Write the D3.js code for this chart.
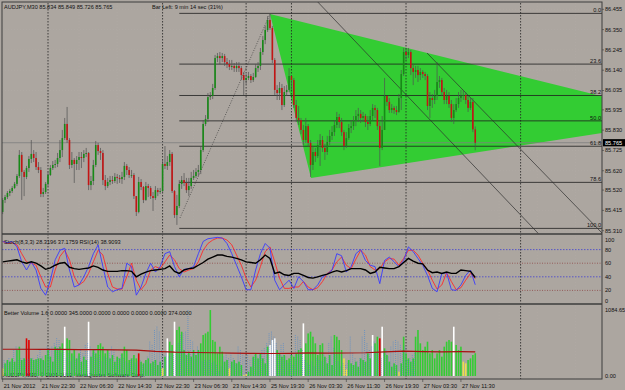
<!DOCTYPE html>
<html>
<head>
<meta charset="utf-8">
<title>AUDJPY,M30</title>
<script src="https://d3js.org/d3.v7.min.js"></script>
<style>
  body { margin: 0; background: #aca6a0; }
  svg { display: block; font-family: "Liberation Sans", Arial, sans-serif; }
  .lbl { font-size: 5.6px; fill: #111; }
</style>
</head>
<body>
<svg id="chart"></svg>
<script>
// ---- texts ----
var symbolTitle = "AUDJPY,M30  85.834 85.849 85.726 85.765";
var barLeftText = "Bar Left: 9 min 14 sec (31%)";
var oscTitle = "Stoch(8,3,3) 28.3196 37.1759 RSI(14) 38.9093";
var volTitle = "Better Volume 1.6 0.0000 345.0000 0.0000 0.0000 0.0000 0.0000 374.0000";
var copyrightText = "AUDJPY,M30, \u00a9 2001-2012, MetaQuotes Software Corp.";

// ---- axes ----
var timeLabels = ["21 Nov 2012", "21 Nov 22:30", "22 Nov 06:30", "22 Nov 14:30", "22 Nov 22:30",
  "23 Nov 06:30", "23 Nov 14:30", "25 Nov 19:30", "26 Nov 03:30", "26 Nov 11:30",
  "26 Nov 19:30", "27 Nov 03:30", "27 Nov 11:30"];
var barsPerLabel = 16;
var priceTicks = [86.455, 86.350, 86.245, 86.140, 86.035, 85.935, 85.830, 85.725, 85.620, 85.520, 85.415, 85.310];
var oscTicks = [100, 80, 60, 40, 20, 0];
var volTicks = [1084.65, 0];
var daySeparators = [19, 67, 102, 121, 169, 217];

// ---- candles (M30 bars, open = previous close) ----
var firstOpen = 85.407;
var closes = [
  85.469, 85.484, 85.505, 85.515, 85.531, 85.552, 85.593, 85.702, 85.614, 85.588,
  85.634, 85.681, 85.707, 85.686, 85.639, 85.624, 85.500, 85.510, 85.552, 85.598,
  85.634, 85.650, 85.655, 85.686, 85.727, 85.789, 85.862, 85.779, 85.650, 85.676,
  85.655, 85.676, 85.691, 85.686, 85.707, 85.712, 85.546, 85.567, 85.650, 85.753,
  85.722, 85.712, 85.572, 85.541, 85.562, 85.572, 85.567, 85.588, 85.583, 85.577,
  85.588, 85.645, 85.624, 85.598, 85.598, 85.489, 85.407, 85.562, 85.536, 85.469,
  85.541, 85.531, 85.489, 85.479, 85.520, 85.510, 85.515, 85.655, 85.645, 85.665,
  85.707, 85.515, 85.391, 85.438, 85.552, 85.572, 85.557, 85.520, 85.541, 85.583,
  85.593, 85.614, 85.624, 85.727, 85.862, 85.888, 86.001, 86.007, 86.048, 86.203,
  86.213, 86.203, 86.213, 86.182, 86.172, 86.157, 86.162, 86.151, 86.162, 86.151,
  86.115, 86.089, 86.100, 86.110, 86.089, 86.105, 86.151, 86.162, 86.234, 86.296,
  86.348, 86.400, 86.358, 86.193, 86.038, 86.022, 86.048, 85.960, 86.027, 86.038,
  86.110, 86.089, 85.960, 85.893, 85.882, 85.831, 85.779, 85.851, 85.764, 85.650,
  85.717, 85.696, 85.753, 85.779, 85.738, 85.717, 85.769, 85.800, 85.820, 85.857,
  85.898, 85.872, 85.820, 85.748, 85.789, 85.841, 85.851, 85.877, 85.903, 85.914,
  85.893, 85.903, 85.872, 85.862, 85.903, 85.945, 85.934, 85.851, 85.738, 85.831,
  86.007, 85.976, 85.934, 85.945, 85.934, 85.924, 85.996, 86.120, 86.234, 86.219,
  86.234, 86.151, 86.131, 86.141, 86.115, 86.131, 86.120, 86.110, 85.955, 85.996,
  85.986, 86.007, 86.079, 86.089, 86.027, 85.986, 86.007, 85.965, 85.893, 85.934,
  85.965, 85.996, 86.007, 86.012, 85.986, 85.945, 85.976, 85.834, 85.765];
var highs = [
  85.479, 85.495, 85.515, 85.526, 85.541, 85.562, 85.603, 85.727, 85.717, 85.624,
  85.645, 85.696, 85.779, 85.727, 85.717, 85.665, 85.639, 85.531, 85.562, 85.614,
  85.650, 85.670, 85.676, 85.712, 85.779, 85.831, 85.893, 85.950, 85.789, 85.717,
  85.686, 85.696, 85.717, 85.717, 85.727, 85.738, 85.717, 85.593, 85.676, 85.774,
  85.764, 85.738, 85.727, 85.598, 85.583, 85.593, 85.593, 85.608, 85.603, 85.598,
  85.614, 85.665, 85.655, 85.639, 85.624, 85.608, 85.489, 85.588, 85.577, 85.541,
  85.562, 85.552, 85.541, 85.510, 85.541, 85.531, 85.531, 85.676, 85.748, 85.696,
  85.727, 85.717, 85.520, 85.495, 85.572, 85.593, 85.608, 85.583, 85.583, 85.614,
  85.624, 85.634, 85.650, 85.748, 85.882, 85.908, 86.022, 86.027, 86.069, 86.219,
  86.229, 86.234, 86.229, 86.224, 86.203, 86.193, 86.193, 86.177, 86.182, 86.182,
  86.162, 86.131, 86.120, 86.131, 86.120, 86.126, 86.172, 86.182, 86.255, 86.317,
  86.369, 86.420, 86.434, 86.369, 86.203, 86.063, 86.079, 86.069, 86.058, 86.063,
  86.151, 86.115, 86.100, 85.986, 85.955, 85.893, 85.857, 85.893, 85.862, 85.779,
  85.748, 85.738, 85.779, 85.810, 85.800, 85.758, 85.800, 85.831, 85.851, 85.882,
  85.924, 85.914, 85.893, 85.831, 85.820, 85.862, 85.882, 85.903, 85.934, 85.945,
  85.934, 85.924, 85.914, 85.903, 85.934, 85.965, 85.960, 85.945, 85.872, 85.903,
  86.100, 86.007, 85.996, 85.965, 85.955, 85.955, 86.017, 86.141, 86.255, 86.255,
  86.255, 86.244, 86.172, 86.162, 86.162, 86.151, 86.141, 86.131, 86.120, 86.027,
  86.017, 86.038, 86.182, 86.110, 86.100, 86.048, 86.038, 86.027, 85.986, 85.965,
  85.996, 86.027, 86.038, 86.038, 86.027, 86.007, 85.996, 85.996, 85.849];
var lows = [
  85.396, 85.453, 85.474, 85.489, 85.505, 85.526, 85.541, 85.583, 85.469, 85.489,
  85.577, 85.614, 85.660, 85.665, 85.624, 85.608, 85.484, 85.484, 85.500, 85.541,
  85.593, 85.624, 85.634, 85.639, 85.665, 85.691, 85.779, 85.764, 85.629, 85.634,
  85.557, 85.624, 85.624, 85.634, 85.665, 85.691, 85.520, 85.520, 85.546, 85.639,
  85.702, 85.676, 85.546, 85.520, 85.531, 85.546, 85.552, 85.557, 85.552, 85.557,
  85.552, 85.572, 85.598, 85.583, 85.583, 85.474, 85.386, 85.400, 85.520, 85.453,
  85.464, 85.484, 85.474, 85.412, 85.469, 85.489, 85.500, 85.505, 85.629, 85.624,
  85.645, 85.505, 85.376, 85.340, 85.427, 85.526, 85.541, 85.505, 85.489, 85.526,
  85.572, 85.583, 85.593, 85.603, 85.717, 85.851, 85.872, 85.986, 85.991, 86.038,
  86.182, 86.172, 86.182, 86.162, 86.151, 86.141, 86.141, 86.131, 86.131, 86.131,
  86.089, 86.012, 86.069, 86.089, 86.074, 86.079, 86.100, 86.131, 86.141, 86.219,
  86.275, 86.338, 86.348, 86.177, 86.012, 85.986, 85.986, 85.934, 85.950, 86.007,
  86.027, 86.038, 85.945, 85.872, 85.857, 85.810, 85.753, 85.764, 85.743, 85.588,
  85.624, 85.665, 85.686, 85.645, 85.717, 85.676, 85.702, 85.753, 85.779, 85.800,
  85.841, 85.841, 85.800, 85.727, 85.738, 85.779, 85.815, 85.831, 85.851, 85.872,
  85.867, 85.872, 85.846, 85.831, 85.851, 85.882, 85.893, 85.831, 85.645, 85.727,
  85.831, 85.955, 85.919, 85.919, 85.914, 85.908, 85.919, 85.934, 86.110, 86.193,
  86.203, 86.115, 86.063, 86.100, 86.079, 86.089, 86.100, 86.089, 85.934, 85.893,
  85.945, 85.965, 85.986, 86.048, 86.007, 85.965, 85.965, 85.945, 85.872, 85.862,
  85.924, 85.945, 85.976, 85.986, 85.965, 85.924, 85.934, 85.820, 85.726];

// ---- Better Volume ----
var volumes = [
  126, 208, 263, 236, 290, 236, 427, 482, 263, 290,
  619, 591, 290, 263, 275, 290, 290, 263, 345, 427,
  318, 236, 482, 455, 482, 537, 810, 619, 591, 372,
  427, 290, 372, 236, 318, 263, 892, 318, 427, 372,
  510, 537, 482, 372, 427, 290, 345, 236, 318, 290,
  372, 482, 427, 263, 290, 345, 290, 372, 236, 208,
  263, 290, 208, 236, 263, 181, 236, 126, 318, 619,
  564, 510, 892, 756, 810, 728, 427, 345, 400, 318,
  427, 345, 427, 537, 674, 700, 728, 1084, 591, 564,
  372, 482, 400, 236, 263, 126, 236, 263, 208, 236,
  181, 16, 30, 71, 153, 318, 372, 290, 372, 290,
  208, 482, 510, 591, 619, 427, 372, 318, 345, 263,
  290, 345, 318, 372, 427, 455, 865, 537, 700, 728,
  646, 537, 345, 510, 537, 318, 208, 345, 181, 674,
  646, 591, 427, 290, 110, 263, 208, 181, 236, 153,
  290, 263, 236, 372, 290, 674, 537, 646, 619, 810,
  455, 345, 236, 153, 208, 181, 71, 208, 646, 372,
  290, 236, 290, 646, 756, 537, 427, 482, 564, 372,
  427, 290, 372, 427, 318, 482, 564, 591, 564, 810,
  510, 427, 482, 236, 208, 263, 290, 345, 374];
var climaxBars = [26, 36, 69, 72, 112, 113, 114, 126, 155, 159, 189];
var churnBars = [10, 11, 57, 158];
var lowVolBars = [0, 67, 95, 101, 102, 143, 144, 166, 193, 194];
var volMaBars = [0, 8, 16, 24, 32, 40, 48, 56, 64, 72, 80, 88, 96, 104, 112, 120, 128, 136, 144, 152, 160, 168, 176, 184, 192, 198];
var volMa = [440, 440, 438, 436, 434, 432, 430, 426, 405, 392, 386, 382, 376, 372, 370, 372, 380, 376, 378, 382, 398, 408, 400, 398, 400, 398];

// ---- Stochastic / RSI, one value every 2 bars ----
var oscStep = 2;
var stochK = [
  92, 90, 92, 84, 62, 50, 62, 50, 23, 13,
  35, 65, 79, 82, 50, 25, 28, 40, 55, 74,
  87, 55, 25, 18, 21, 23, 60, 55, 13, 25,
  45, 60, 47, 55, 74, 77, 55, 40, 51, 52,
  55, 74, 92, 96, 97, 98, 97, 89, 74, 57,
  40, 21, 21, 50, 74, 89, 82, 35, 21, 28,
  35, 23, 40, 33, 21, 21, 28, 40, 44, 50,
  74, 71, 47, 55, 74, 80, 64, 57, 55, 30,
  64, 69, 62, 55, 64, 84, 77, 67, 57, 42,
  23, 18, 45, 46, 21, 20, 28, 42, 50, 28.3];
var stochD = [
  92, 89, 90, 87, 74, 62, 60, 57, 40, 25,
  25, 50, 70, 79, 65, 40, 28, 33, 45, 62,
  79, 72, 45, 25, 22, 22, 40, 60, 35, 21,
  30, 50, 55, 52, 62, 72, 65, 52, 47, 50,
  52, 62, 79, 89, 94, 97, 97, 94, 87, 72,
  57, 38, 25, 35, 55, 77, 84, 62, 38, 23,
  23, 25, 25, 33, 25, 21, 24, 33, 45, 50,
  62, 69, 57, 52, 66, 79, 72, 55, 50, 52,
  62, 67, 66, 57, 67, 79, 79, 72, 60, 50,
  35, 22, 28, 46, 33, 21, 24, 35, 45, 37.2];
var rsi = [
  62, 63, 64, 65, 62, 60, 62, 60, 56, 51,
  53, 57, 60, 61, 54, 52, 51, 52, 53, 56,
  54, 50, 48, 48, 48, 49, 49, 48, 40, 44,
  47, 49, 50, 51, 52, 56, 48, 45, 50, 52,
  53, 57, 61, 66, 69, 72, 72, 70, 69, 67,
  65, 62, 61, 60, 65, 72, 67, 45, 47, 43,
  42, 45, 45, 42, 39, 38, 40, 42, 44, 47,
  49, 47, 49, 52, 52, 52, 50, 45, 47, 54,
  53, 52, 52, 55, 61, 67, 63, 60, 59, 50,
  46, 47, 45, 47, 45, 45, 50, 49, 48, 38.9];
var levelsBlue = [80, 40];
var levelsBrown = [60, 20];

// ---- objects on the price chart (bar index, price) ----
var fibLevels = [0, 23.6, 38.2, 50, 61.8, 78.6, 100];
var fibHigh = 86.434, fibLow = 85.322, fibStartBar = 74;
var fibTrend = [[74.3, 85.376], [112, 86.431]];
var triangle = [[112, 86.431], [129.2, 85.583], [289.2, 85.888]];
var channel = [[[132, 86.493], [225, 85.288]], [[177.8, 86.229], [251.1, 85.298]]];
var bidPrice = 85.765;

// ---- layout ----
var W = 625, H = 390;
var pl = 2, pr = 602;
var mainTop = 2, mainBottom = 233.5;
var oscTop = 234.5, oscBottom = 303.5;
var volTop = 304.5, volBottom = 379;

var svg = d3.select("#chart").attr("width", W).attr("height", H);
svg.append("rect").attr("width", W).attr("height", H).attr("fill", "#aca6a0");

var x = d3.scaleLinear().domain([0, 217]).range([2.65, 520.6]);
var y = d3.scaleLinear().domain([85.310, 86.455]).range([230.7, 9.3]);
var yOsc = d3.scaleLinear().domain([0, 100]).range([304, 236]);
var yVol = d3.scaleLinear().domain([0, 1084.65]).range([376, 310]);

var defs = svg.append("defs");
function clip(id, top, bottom) {
  defs.append("clipPath").attr("id", id).append("rect")
    .attr("x", pl).attr("y", top).attr("width", pr - pl).attr("height", bottom - top);
}
clip("cMain", mainTop, mainBottom);
clip("cOsc", oscTop, oscBottom);
clip("cVol", volTop, volBottom);

var gMain = svg.append("g").attr("clip-path", "url(#cMain)");
var gOsc = svg.append("g").attr("clip-path", "url(#cOsc)");
var gVol = svg.append("g").attr("clip-path", "url(#cVol)");

var timeIdx = d3.range(timeLabels.length).map(function(k) { return k * barsPerLabel; });

// faint grid
[gMain, gOsc, gVol].forEach(function(g) {
  g.selectAll(".vgrid").data(timeIdx.concat([208, 224, 240])).enter().append("line")
    .attr("x1", function(d) { return x(d); }).attr("x2", function(d) { return x(d); })
    .attr("y1", 0).attr("y2", H)
    .attr("stroke", "#b3ada6").attr("stroke-width", 0.5).attr("stroke-dasharray", "1,2");
});
gMain.selectAll(".hgrid").data(priceTicks).enter().append("line")
  .attr("x1", pl).attr("x2", pr)
  .attr("y1", function(d) { return y(d); }).attr("y2", function(d) { return y(d); })
  .attr("stroke", "#b3ada6").attr("stroke-width", 0.5).attr("stroke-dasharray", "1,2");

// triangle
gMain.append("polygon")
  .attr("points", triangle.map(function(p) { return x(p[0]) + "," + y(p[1]); }).join(" "))
  .attr("fill", "#33cc33");

// day separators
[gMain, gOsc, gVol].forEach(function(g) {
  g.selectAll(".sep").data(daySeparators).enter().append("line")
    .attr("x1", function(d) { return x(d); }).attr("x2", function(d) { return x(d); })
    .attr("y1", 0).attr("y2", H)
    .attr("stroke", "#222").attr("stroke-width", 0.8).attr("stroke-dasharray", "1.5,1.5");
});

// bid line
gMain.append("line").attr("x1", pl).attr("x2", pr)
  .attr("y1", y(bidPrice)).attr("y2", y(bidPrice))
  .attr("stroke", "#7e7e7e").attr("stroke-width", 0.8);

// fibonacci
function fibPrice(l) { return fibHigh - (fibHigh - fibLow) * l / 100; }
gMain.selectAll(".fib").data(fibLevels).enter().append("line")
  .attr("x1", x(fibStartBar)).attr("x2", pr)
  .attr("y1", function(d) { return y(fibPrice(d)); }).attr("y2", function(d) { return y(fibPrice(d)); })
  .attr("stroke", "#1e1e1e").attr("stroke-width", 0.8);
gMain.selectAll(".fibl").data(fibLevels).enter().append("text")
  .attr("class", "lbl").attr("text-anchor", "end")
  .attr("x", pr - 1).attr("y", function(d) { return y(fibPrice(d)) - 1.2; })
  .text(function(d) { return d3.format(".1f")(d); });

// trend lines
var pline = d3.line().x(function(p) { return x(p[0]); }).y(function(p) { return y(p[1]); });
gMain.append("path").attr("d", pline(fibTrend)).attr("fill", "none")
  .attr("stroke", "#3a3a3a").attr("stroke-width", 0.7).attr("stroke-dasharray", "1,1.5");
channel.forEach(function(c) {
  gMain.append("path").attr("d", pline(c)).attr("fill", "none")
    .attr("stroke", "#2e2e2e").attr("stroke-width", 0.7);
});

// candles
var bars = closes.map(function(c, i) {
  return { i: i, o: i === 0 ? firstOpen : closes[i - 1], h: highs[i], l: lows[i], c: c };
});
var cg = gMain.selectAll(".candle").data(bars).enter().append("g");
cg.append("line")
  .attr("x1", function(d) { return x(d.i); }).attr("x2", function(d) { return x(d.i); })
  .attr("y1", function(d) { return y(d.h); }).attr("y2", function(d) { return y(d.l); })
  .attr("stroke", "#505050").attr("stroke-width", 0.7);
cg.append("rect")
  .attr("x", function(d) { return x(d.i) - 0.8; })
  .attr("width", 1.6)
  .attr("y", function(d) { return y(Math.max(d.o, d.c)); })
  .attr("height", function(d) { return Math.max(0.8, Math.abs(y(d.o) - y(d.c))); })
  .attr("fill", function(d) { return d.c >= d.o ? "#178a17" : "#c41414"; });

// oscillator panel
var oscData = function(arr) { return arr.map(function(v, k) { return [k * oscStep, v]; }); };
var oline = d3.line().x(function(p) { return x(p[0]); }).y(function(p) { return yOsc(p[1]); });
gOsc.selectAll(".lb").data(levelsBlue).enter().append("line")
  .attr("x1", pl).attr("x2", pr)
  .attr("y1", function(d) { return yOsc(d); }).attr("y2", function(d) { return yOsc(d); })
  .attr("stroke", "#3434d8").attr("stroke-width", 0.7).attr("stroke-dasharray", "1.5,1.5");
gOsc.selectAll(".lr").data(levelsBrown).enter().append("line")
  .attr("x1", pl).attr("x2", pr)
  .attr("y1", function(d) { return yOsc(d); }).attr("y2", function(d) { return yOsc(d); })
  .attr("stroke", "#8a3c3c").attr("stroke-width", 0.7).attr("stroke-dasharray", "1,1.5");
gOsc.append("path").attr("d", oline(oscData(stochD))).attr("fill", "none")
  .attr("stroke", "#ff2a2a").attr("stroke-width", 0.9);
gOsc.append("path").attr("d", oline(oscData(stochK))).attr("fill", "none")
  .attr("stroke", "#3a3aff").attr("stroke-width", 0.9);
gOsc.append("path").attr("d", oline(oscData(rsi))).attr("fill", "none")
  .attr("stroke", "#000").attr("stroke-width", 1.4);

// volume panel
gVol.append("text").attr("class", "lbl").attr("x", 3).attr("y", 376.5).text(copyrightText);
function volColor(i) {
  if (climaxBars.indexOf(i) >= 0) return "#ffffff";
  if (churnBars.indexOf(i) >= 0) return "#e00000";
  if (lowVolBars.indexOf(i) >= 0) return "#ece04a";
  return "#33cc33";
}
var vg = gVol.selectAll(".vol").data(volumes).enter().append("g");
vg.append("rect")
  .attr("x", function(d, i) { return x(i) - 0.8; }).attr("width", 1.6)
  .attr("y", function(d) { return yVol(d); })
  .attr("height", function(d) { return yVol(0) - yVol(d); })
  .attr("fill", function(d, i) { return volColor(i); });
vg.filter(function(d, i) { return volColor(i) === "#33cc33"; }).append("line")
  .attr("x1", function(d, i) { return x(i) - 0.9; }).attr("x2", function(d, i) { return x(i) - 0.9; })
  .attr("y1", function(d) { return yVol(d); }).attr("y2", yVol(0))
  .attr("stroke", "#2a7fe0").attr("stroke-width", 0.6).attr("stroke-dasharray", "0.8,1.2");
gVol.append("path")
  .attr("d", d3.line().x(function(d, k) { return x(volMaBars[k]); }).y(function(d) { return yVol(d); })(volMa))
  .attr("fill", "none").attr("stroke", "#a81010").attr("stroke-width", 1.2);

// frames
svg.append("rect").attr("x", pl).attr("y", mainTop).attr("width", pr - pl).attr("height", volBottom - mainTop)
  .attr("fill", "none").attr("stroke", "#3c3c3c").attr("stroke-width", 1);
[mainBottom + 0.5, oscBottom + 0.5].forEach(function(v) {
  svg.append("line").attr("x1", pl).attr("x2", pr).attr("y1", v).attr("y2", v)
    .attr("stroke", "#3c3c3c").attr("stroke-width", 1.6);
});

// titles
svg.append("text").attr("class", "lbl").attr("x", 4).attr("y", 8.5).text(symbolTitle);
svg.append("text").attr("class", "lbl").attr("x", 152).attr("y", 8.5).text(barLeftText);
svg.append("text").attr("class", "lbl").attr("x", 4).attr("y", 243.5).text(oscTitle);
svg.append("text").attr("class", "lbl").attr("x", 4).attr("y", 314.5).text(volTitle);

// right axis
svg.selectAll(".pt").data(priceTicks).enter().append("line")
  .attr("x1", pr).attr("x2", pr + 2)
  .attr("y1", function(d) { return y(d); }).attr("y2", function(d) { return y(d); })
  .attr("stroke", "#3c3c3c").attr("stroke-width", 0.6);
svg.selectAll(".pl").data(priceTicks).enter().append("text")
  .attr("class", "lbl").attr("x", 605).attr("y", function(d) { return y(d); }).attr("dy", "0.35em")
  .text(function(d) { return d3.format(".3f")(d); });
svg.append("rect").attr("x", 603).attr("y", y(bidPrice) - 3.6).attr("width", 22).attr("height", 7.2)
  .attr("fill", "#000");
svg.append("text").attr("class", "lbl").attr("x", 605).attr("y", y(bidPrice)).attr("dy", "0.35em")
  .style("fill", "#fff").text(d3.format(".3f")(bidPrice));
svg.selectAll(".ol").data(oscTicks).enter().append("text")
  .attr("class", "lbl").attr("x", 605)
  .attr("y", function(d) { return Math.max(oscTop + 5.5, Math.min(oscBottom - 2.5, yOsc(d))); })
  .attr("dy", "0.35em").text(function(d) { return d; });
svg.selectAll(".vl").data(volTicks).enter().append("text")
  .attr("class", "lbl").attr("x", 605).attr("y", function(d) { return yVol(d); }).attr("dy", "0.35em")
  .text(function(d) { return d3.format(".2f")(d); });

// bottom time axis
svg.selectAll(".tt").data(timeIdx).enter().append("line")
  .attr("x1", function(d) { return x(d); }).attr("x2", function(d) { return x(d); })
  .attr("y1", volBottom).attr("y2", volBottom + 3)
  .attr("stroke", "#3c3c3c").attr("stroke-width", 0.6);
svg.selectAll(".tl").data(timeIdx).enter().append("text")
  .attr("class", "lbl").attr("x", function(d) { return x(d) + 1; }).attr("y", 387.5)
  .text(function(d, k) { return timeLabels[k]; });
</script>
</body>
</html>
